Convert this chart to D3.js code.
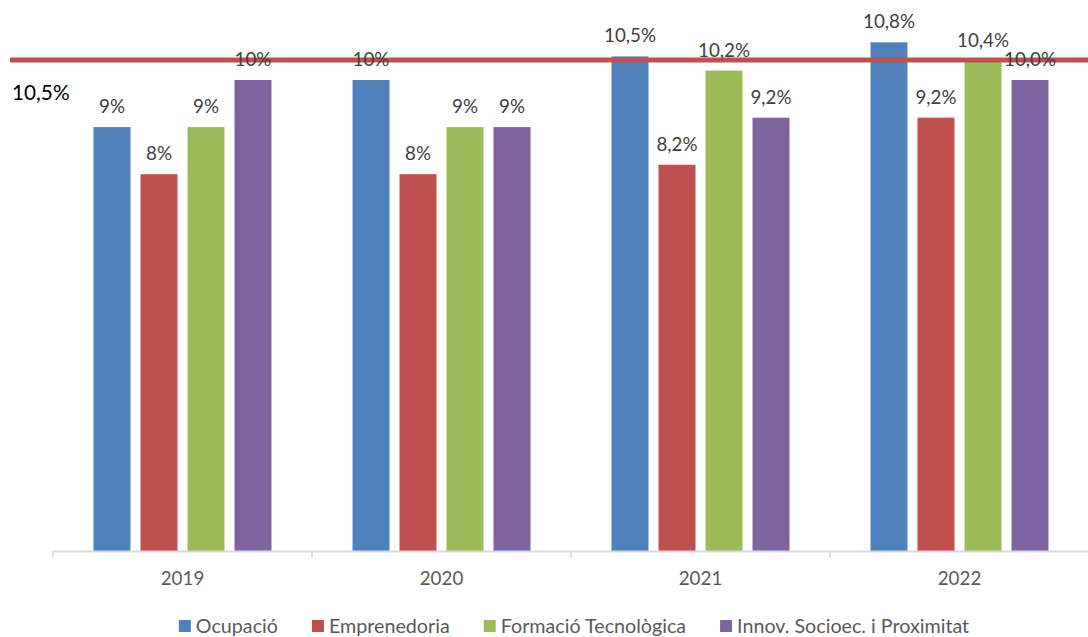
<!DOCTYPE html>
<html>
<head>
<meta charset="utf-8">
<script src="https://cdn.jsdelivr.net/npm/d3@7"></script>
<style>
  body { margin: 0; background: #fff; }
  svg { display: block; font-family: Lato, "Open Sans", sans-serif; }
</style>
</head>
<body>
<div id="chart"></div>
<script>
// data
var years = ["2019", "2020", "2021", "2022"];
var series = ["Ocupació", "Emprenedoria", "Formació Tecnològica", "Innov. Socioec. i Proximitat"];
var colors = ["#4f81bd", "#c0504d", "#9bbb59", "#8064a2"];
var ocupacio     = [9, 10, 10.5, 10.8];
var emprenedoria = [8, 8, 8.2, 9.2];
var formacio     = [9, 9, 10.2, 10.4];
var innovacio    = [10, 9, 9.2, 10.0];
var labelsOcupacio     = ["9%", "10%", "10,5%", "10,8%"];
var labelsEmprenedoria = ["8%", "8%", "8,2%", "9,2%"];
var labelsFormacio     = ["9%", "9%", "10,2%", "10,4%"];
var labelsInnovacio    = ["10%", "9%", "9,2%", "10,0%"];
var refValue = 10.5;
var refLabel = "10,5%";

var values = [ocupacio, emprenedoria, formacio, innovacio];
var labels = [labelsOcupacio, labelsEmprenedoria, labelsFormacio, labelsInnovacio];

var W = 1088, H = 637;
var svg = d3.select("#chart").append("svg")
    .attr("width", W)
    .attr("height", H);

// scales
var x0 = d3.scaleBand()
    .domain(years)
    .range([53, 1089])
    .padding(0);
var groupW = 178;
var x1 = d3.scaleBand()
    .domain(series)
    .range([0, groupW])
    .paddingInner(10/47)
    .paddingOuter(0);
var y = d3.scaleLinear()
    .domain([0, 10])
    .range([551, 80]);

// bars
var cells = [];
years.forEach(function(yr, i){
  series.forEach(function(s, j){
    cells.push({year: yr, serie: s, value: values[j][i], label: labels[j][i], color: colors[j]});
  });
});

svg.selectAll("rect.bar")
  .data(cells)
  .enter()
  .append("rect")
  .attr("class", "bar")
  .attr("x", function(d){ return x0(d.year) + (x0.bandwidth()-groupW)/2 + x1(d.serie); })
  .attr("y", function(d){ return y(d.value); })
  .attr("width", x1.bandwidth())
  .attr("height", function(d){ return y(0) - y(d.value); })
  .attr("fill", function(d){ return d.color; });

// axis
var axisG = svg.append("g").attr("transform", "translate(0," + y(0) + ")");
axisG.append("line")
  .attr("x1", 53).attr("x2", W)
  .attr("y1", 0.5).attr("y2", 0.5)
  .attr("stroke", "#d9d9d9").attr("stroke-width", 2);
var bounds = years.map(function(d){ return x0(d); }).concat([x0(years[years.length-1]) + x0.bandwidth()]);
axisG.selectAll("line.tick")
  .data(bounds)
  .enter()
  .append("line")
  .attr("class", "tick")
  .attr("x1", function(d){ return d; })
  .attr("x2", function(d){ return d; })
  .attr("y1", 0).attr("y2", 7)
  .attr("stroke", "#d9d9d9").attr("stroke-width", 1.5);
axisG.selectAll("text.year")
  .data(years)
  .enter()
  .append("text")
  .attr("class", "year")
  .attr("x", function(d){ return x0(d) + x0.bandwidth()/2; })
  .attr("y", 34)
  .attr("text-anchor", "middle")
  .attr("fill", "#595959")
  .style("font-size", "18.8px")
  .text(function(d){ return d; });

// reference line
svg.append("line")
  .attr("x1", 10).attr("x2", W)
  .attr("y1", y(refValue) + 3.5).attr("y2", y(refValue) + 3.5)
  .attr("stroke", "#c0504d")
  .attr("stroke-width", 5);
svg.append("text")
  .attr("x", 12)
  .attr("y", y(refValue) + 44)
  .attr("fill", "#000")
  .style("font-size", "20.8px")
  .text(refLabel);

// data labels
svg.selectAll("text.lbl")
  .data(cells)
  .enter()
  .append("text")
  .attr("class", "lbl")
  .attr("x", function(d){ return x0(d.year) + (x0.bandwidth()-groupW)/2 + x1(d.serie) + x1.bandwidth()/2; })
  .attr("y", function(d){ return y(d.value) - 14; })
  .attr("text-anchor", "middle")
  .attr("fill", "#404040")
  .style("font-size", "18.8px")
  .text(function(d){ return d.label; });

// legend
var legend = svg.append("g");
var lx = 0;
series.forEach(function(s, j){
  var item = legend.append("g").attr("transform", "translate(" + lx + ",0)");
  item.append("rect")
    .attr("x", 0).attr("y", 620)
    .attr("width", 12).attr("height", 12)
    .attr("fill", colors[j]);
  var t = item.append("text")
    .attr("x", 17).attr("y", 633)
    .attr("fill", "#595959")
    .style("font-size", "19.7px")
    .text(s);
  lx += 17 + t.node().getComputedTextLength() + 34;
});
var legendW = lx - 34;
legend.attr("transform", "translate(" + (574 - legendW/2) + ",0)");
</script>
</body>
</html>
